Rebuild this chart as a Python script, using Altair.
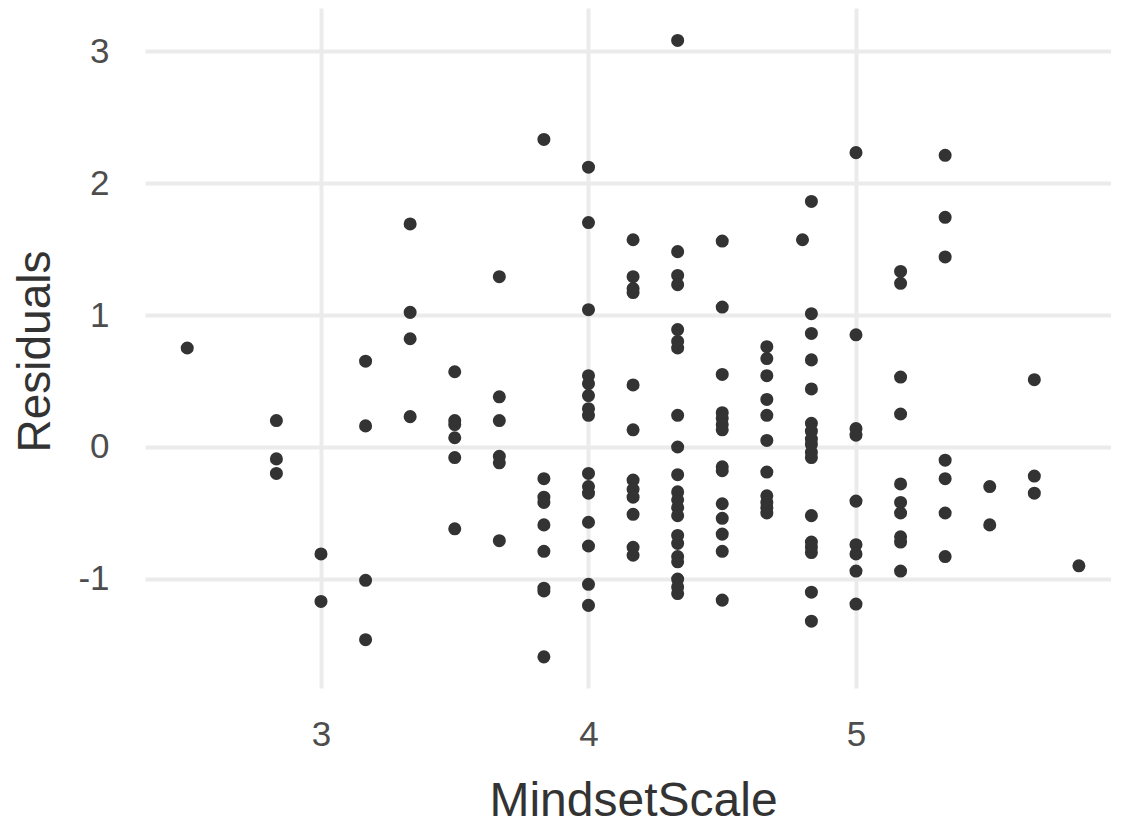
import altair as alt
import pandas as pd

# MindsetScale levels (x) and the residuals observed at each level (y)
x_levels = [2.5, 2.8333, 3.0, 3.1667, 3.3333, 3.5, 3.6667, 3.8333, 4.0, 4.1667,
            4.3333, 4.5, 4.6667, 4.8, 4.8333, 5.0, 5.1667, 5.3333, 5.5, 5.6667, 5.8333]

res_2_50 = [0.75]
res_2_83 = [0.20, -0.09, -0.20]
res_3_00 = [-0.81, -1.17]
res_3_17 = [0.65, 0.16, -1.01, -1.46]
res_3_33 = [1.69, 1.02, 0.82, 0.23]
res_3_50 = [0.57, 0.20, 0.17, 0.07, -0.08, -0.62]
res_3_67 = [1.29, 0.38, 0.20, -0.07, -0.12, -0.71]
res_3_83 = [2.33, -0.24, -0.38, -0.42, -0.59, -0.79, -1.07, -1.09, -1.59]
res_4_00 = [2.12, 1.70, 1.04, 0.54, 0.48, 0.39, 0.29, 0.24, -0.20, -0.30, -0.35,
            -0.57, -0.75, -1.04, -1.20]
res_4_17 = [1.57, 1.29, 1.20, 1.17, 0.47, 0.13, -0.25, -0.32, -0.38, -0.51, -0.76, -0.82]
res_4_33 = [3.08, 1.48, 1.30, 1.23, 0.89, 0.80, 0.75, 0.24, 0.00, -0.21, -0.34, -0.40,
            -0.46, -0.52, -0.67, -0.73, -0.83, -0.87, -1.00, -1.06, -1.11]
res_4_50 = [1.56, 1.06, 0.55, 0.26, 0.22, 0.17, 0.13, -0.15, -0.18, -0.43, -0.54,
            -0.66, -0.79, -1.16]
res_4_67 = [0.76, 0.67, 0.54, 0.36, 0.24, 0.05, -0.19, -0.37, -0.42, -0.46, -0.50]
res_4_80 = [1.57]
res_4_83 = [1.86, 1.01, 0.86, 0.66, 0.44, 0.18, 0.12, 0.06, 0.02, -0.04, -0.08,
            -0.52, -0.72, -0.76, -0.80, -1.10, -1.32]
res_5_00 = [2.23, 0.85, 0.14, 0.09, -0.41, -0.74, -0.81, -0.94, -1.19]
res_5_17 = [1.33, 1.24, 0.53, 0.25, -0.28, -0.42, -0.50, -0.68, -0.72, -0.94]
res_5_33 = [2.21, 1.74, 1.44, -0.10, -0.24, -0.50, -0.83]
res_5_50 = [-0.30, -0.59]
res_5_67 = [0.51, -0.22, -0.35]
res_5_83 = [-0.90]

residual_groups = [res_2_50, res_2_83, res_3_00, res_3_17, res_3_33, res_3_50, res_3_67,
                   res_3_83, res_4_00, res_4_17, res_4_33, res_4_50, res_4_67, res_4_80,
                   res_4_83, res_5_00, res_5_17, res_5_33, res_5_50, res_5_67, res_5_83]

x_ticks = [3, 4, 5]
y_ticks = [-1, 0, 1, 2, 3]

rows = []
for xv, group in zip(x_levels, residual_groups):
    for yv in group:
        rows.append({"MindsetScale": xv, "Residuals": yv})
df = pd.DataFrame(rows)

FONT = "Liberation Sans"

chart = alt.Chart(df).mark_circle(size=170, color="#333333", opacity=1).encode(
    x=alt.X("MindsetScale:Q",
            scale=alt.Scale(domain=[2.3421, 5.9533], nice=False, zero=False),
            axis=alt.Axis(values=x_ticks, title="MindsetScale", domain=False, ticks=False,
                          tickSize=0, grid=True, gridColor="#EBEBEB", gridWidth=4,
                          labelFont=FONT, labelFontSize=35, labelColor="#4D4D4D",
                          labelBaseline="alphabetic", labelPadding=57,
                          labelExpr="'' + datum.value",
                          titleFont=FONT, titleFontSize=48, titleFontWeight="normal",
                          titleColor="#333333", titleX=488, titleY=127,
                          titleBaseline="alphabetic", titleAlign="center")),
    y=alt.Y("Residuals:Q",
            scale=alt.Scale(domain=[-1.8258, 3.3258], nice=False, zero=False),
            axis=alt.Axis(values=y_ticks, title="Residuals", domain=False, ticks=False,
                          tickSize=0, grid=True, gridColor="#EBEBEB", gridWidth=4,
                          labelFont=FONT, labelFontSize=35, labelColor="#4D4D4D",
                          labelPadding=36, labelExpr="'' + datum.value",
                          titleFont=FONT, titleFontSize=46, titleFontWeight="normal",
                          titleColor="#333333", titleX=-110, titleY=343,
                          titleBaseline="middle", titleAlign="center", titleAngle=270)),
).properties(
    width=966,
    height=680,
    padding={"left": 137, "top": 0, "right": 0, "bottom": 136},
    autosize=alt.AutoSizeParams(type="none"),
    background="white",
).configure_view(stroke=None)

chart.save("out.html", embed_options={"renderer": "svg", "actions": False})
